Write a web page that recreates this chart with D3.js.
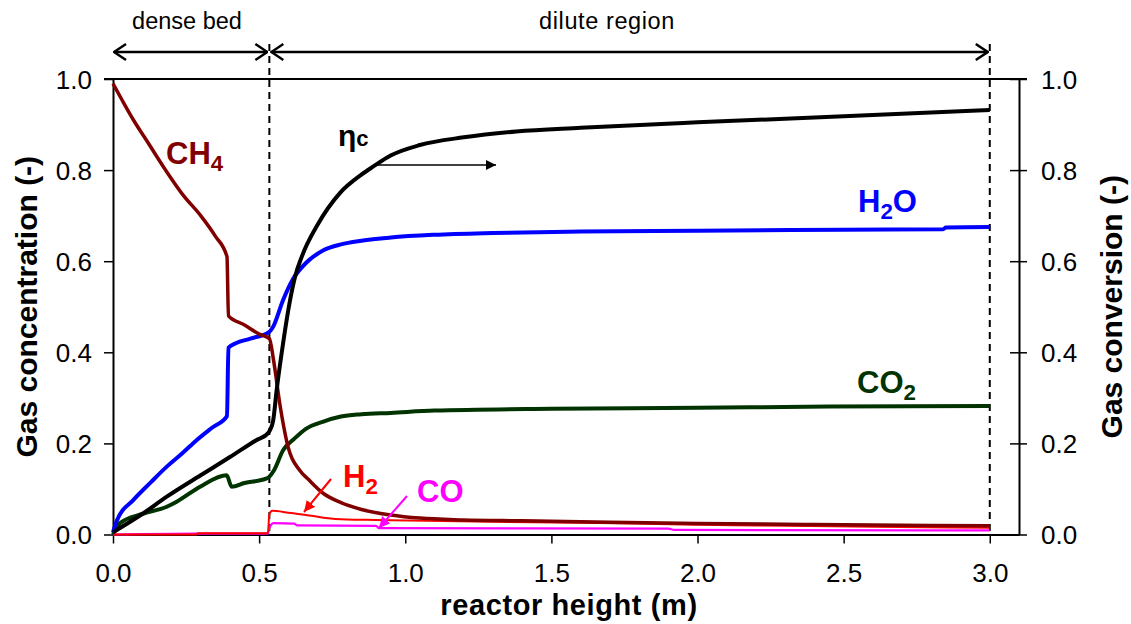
<!DOCTYPE html>
<html>
<head>
<meta charset="utf-8">
<script src="https://cdn.jsdelivr.net/npm/d3@7"></script>
<style>
  html, body { margin: 0; padding: 0; background: #fff; }
  svg { display: block; font-family: "Liberation Sans", Arial, sans-serif; }
</style>
</head>
<body>
<svg id="chart" width="1131" height="624"></svg>
<script>
// Reactor height (m) and gas concentration / conversion profiles
const ch4Height = [0, 0.03, 0.07, 0.12, 0.18, 0.24, 0.3, 0.35, 0.39, 0.395, 0.45, 0.5, 0.535, 0.55, 0.57, 0.6, 0.64, 0.67, 0.72, 0.78, 0.85, 0.95, 1.05, 1.2, 1.4, 1.7, 2.0, 2.4, 2.8, 3.0];
const ch4Value  = [0.99, 0.955, 0.91, 0.86, 0.80, 0.745, 0.70, 0.655, 0.61, 0.48, 0.46, 0.44, 0.43, 0.38, 0.29, 0.19, 0.14, 0.12, 0.09, 0.07, 0.055, 0.043, 0.036, 0.032, 0.03, 0.027, 0.024, 0.022, 0.02, 0.019];

const h2oHeight = [0, 0.013, 0.07, 0.13, 0.184, 0.24, 0.286, 0.34, 0.39, 0.395, 0.42, 0.47, 0.535, 0.548, 0.582, 0.615, 0.66, 0.72, 0.78, 0.85, 0.95, 1.1, 1.3, 1.6, 2.0, 2.5, 2.84, 2.85, 3.0];
const h2oValue  = [0.005, 0.03, 0.076, 0.115, 0.149, 0.18, 0.207, 0.235, 0.26, 0.41, 0.42, 0.43, 0.445, 0.456, 0.515, 0.56, 0.596, 0.624, 0.637, 0.645, 0.652, 0.658, 0.662, 0.665, 0.667, 0.669, 0.67, 0.674, 0.675];

const co2Height = [0, 0.024, 0.1, 0.184, 0.218, 0.298, 0.389, 0.406, 0.45, 0.526, 0.535, 0.55, 0.582, 0.62, 0.66, 0.72, 0.78, 0.85, 0.95, 1.1, 1.5, 2.0, 2.45, 3.0];
const co2Value  = [0, 0.025, 0.045, 0.061, 0.072, 0.105, 0.13, 0.105, 0.113, 0.123, 0.127, 0.14, 0.185, 0.21, 0.232, 0.248, 0.259, 0.264, 0.267, 0.272, 0.276, 0.278, 0.281, 0.282];

const h2Height = [0, 0.286, 0.29, 0.53, 0.535, 0.545, 0.6, 0.66, 0.72, 0.8, 0.9, 1.07, 1.3, 1.6, 1.95, 2.2, 2.6, 3.0];
const h2Value  = [0, 0, 0.003, 0.003, 0.045, 0.052, 0.048, 0.043, 0.037, 0.033, 0.032, 0.03, 0.028, 0.026, 0.022, 0.02, 0.017, 0.015];

const coHeight = [0, 0.286, 0.53, 0.535, 0.55, 0.62, 0.63, 0.9, 0.91, 1.9, 1.92, 3.0];
const coValue  = [0, 0.002, 0.002, 0.015, 0.025, 0.024, 0.02, 0.019, 0.014, 0.013, 0.01, 0.009];

// Carbon conversion (right axis)
const etaHeight = [0, 0.1, 0.184, 0.3, 0.4, 0.49, 0.53, 0.537, 0.548, 0.56, 0.582, 0.606, 0.623, 0.646, 0.7, 0.777, 0.85, 0.891, 0.95, 1.05, 1.2, 1.38, 1.6, 2.0, 2.5, 3.0];
const etaValue  = [0.005, 0.045, 0.083, 0.13, 0.17, 0.207, 0.222, 0.229, 0.25, 0.317, 0.42, 0.515, 0.566, 0.61, 0.68, 0.75, 0.79, 0.808, 0.832, 0.855, 0.872, 0.885, 0.893, 0.905, 0.918, 0.932];

const xTicks = [0, 0.5, 1.0, 1.5, 2.0, 2.5, 3.0];
const yTicks = [0, 0.2, 0.4, 0.6, 0.8, 1.0];
const denseBedTop = 0.535;
const reactorTop = 3.0;

const svg = d3.select("#chart");
const plotLeft = 113, plotRight = 1019, plotTop = 79, plotBottom = 534.5;

const x = d3.scaleLinear().domain([0, 3.1]).range([plotLeft, plotRight]);
const y = d3.scaleLinear().domain([0, 1]).range([plotBottom, plotTop]);
const yR = d3.scaleLinear().domain([0, 1]).range([plotBottom, plotTop]);

const fmt = d3.format(".1f");

// Region boundary lines
[denseBedTop, reactorTop].forEach(h => {
  svg.append("line")
    .attr("x1", x(h)).attr("x2", x(h))
    .attr("y1", 44).attr("y2", plotBottom)
    .attr("stroke", "#000").attr("stroke-width", 2)
    .attr("stroke-dasharray", "7,5");
});

// Axes
const gx = svg.append("g").attr("transform", `translate(0,${plotBottom})`)
  .call(d3.axisBottom(x).tickValues(xTicks).tickFormat(fmt).tickSize(9).tickSizeOuter(0));
const gy = svg.append("g").attr("transform", `translate(${plotLeft},0)`)
  .call(d3.axisLeft(y).tickValues(yTicks).tickFormat(fmt).tickSize(9).tickSizeOuter(0));
const gyr = svg.append("g").attr("transform", `translate(${plotRight},0)`)
  .call(d3.axisRight(yR).tickValues(yTicks).tickFormat(fmt).tickSize(8).tickSizeOuter(0));
gyr.selectAll(".tick line").attr("x1", -9);

[gx, gy, gyr].forEach(g => {
  g.select(".domain").attr("stroke", "#000").attr("stroke-width", 2);
  g.selectAll(".tick line").attr("stroke", "#000").attr("stroke-width", 1.5);
  g.selectAll(".tick text").attr("fill", "#000").style("font-size", "26px")
    .style("font-family", "'Liberation Sans', Arial, sans-serif");
});
gx.selectAll(".tick text").attr("dy", null).attr("y", 47);
gy.selectAll(".tick text").attr("x", -21).attr("dy", "0.36em");
gyr.selectAll(".tick text").attr("x", 22).attr("dy", "0.36em");

// Top frame line
svg.append("line").attr("x1", plotLeft - 9).attr("x2", plotRight + 8)
  .attr("y1", plotTop).attr("y2", plotTop).attr("stroke", "#000").attr("stroke-width", 2);

// Axis titles
svg.append("text").attr("x", 569).attr("y", 615)
  .attr("text-anchor", "middle").style("font-size", "29px").style("font-weight", "bold")
  .style("letter-spacing", "0.6px")
  .text("reactor height (m)");
svg.append("text").attr("transform", `translate(37,${(plotTop + plotBottom) / 2}) rotate(-90)`)
  .attr("text-anchor", "middle").style("font-size", "30px").style("font-weight", "bold")
  .text("Gas concentration (-)");
svg.append("text").attr("transform", `translate(1122,${(plotTop + plotBottom) / 2}) rotate(-90)`)
  .attr("text-anchor", "middle").style("font-size", "30px").style("font-weight", "bold")
  .text("Gas conversion (-)");

// Series lines
const line = (scale) => d3.line().curve(d3.curveMonotoneX).x(d => x(d[0])).y(d => scale(d[1]));
const zip = (a, b) => a.map((v, i) => [v, b[i]]);

const series = [
  { h: co2Height, v: co2Value, color: "#003300", w: 4, s: y },
  { h: h2oHeight, v: h2oValue, color: "#0000ff", w: 4, s: y },
  { h: coHeight, v: coValue, color: "#ff00ff", w: 2.2, s: y },
  { h: h2Height, v: h2Value, color: "#ff0000", w: 2, s: y },
  { h: ch4Height, v: ch4Value, color: "#800000", w: 3.5, s: y },
  { h: etaHeight, v: etaValue, color: "#000000", w: 4, s: yR }
];
series.forEach(sr => {
  svg.append("path").datum(zip(sr.h, sr.v))
    .attr("d", line(sr.s))
    .attr("fill", "none").attr("stroke", sr.color)
    .attr("stroke-width", sr.w).attr("stroke-linejoin", "round");
});

// Arrow markers
const defs = svg.append("defs");
defs.append("marker").attr("id", "tri").attr("viewBox", "0 0 10 10")
  .attr("refX", 10).attr("refY", 5).attr("markerWidth", 10).attr("markerHeight", 10)
  .attr("markerUnits", "userSpaceOnUse").attr("orient", "auto")
  .append("path").attr("d", "M0,0 L10,5 L0,10 Z").attr("fill", "#000");
defs.append("marker").attr("id", "chev").attr("viewBox", "0 0 14 20")
  .attr("refX", 13).attr("refY", 10).attr("markerWidth", 14).attr("markerHeight", 20)
  .attr("markerUnits", "userSpaceOnUse").attr("orient", "auto-start-reverse")
  .append("path").attr("d", "M1,2 L13,10 L1,18").attr("fill", "none")
  .attr("stroke", "#000").attr("stroke-width", 2.5);
["#ff0000", "#ff00ff"].forEach((c, i) => {
  defs.append("marker").attr("id", "head" + i).attr("viewBox", "0 0 10 10")
    .attr("refX", 10).attr("refY", 5).attr("markerWidth", 11).attr("markerHeight", 11)
    .attr("markerUnits", "userSpaceOnUse").attr("orient", "auto")
    .append("path").attr("d", "M0,0 L10,5 L0,10 Z").attr("fill", c);
});

// Region arrows and labels
svg.append("line").attr("x1", x(0) + 1).attr("x2", x(denseBedTop) - 2)
  .attr("y1", 52).attr("y2", 52).attr("stroke", "#000").attr("stroke-width", 2.5)
  .attr("marker-start", "url(#chev)").attr("marker-end", "url(#chev)");
svg.append("line").attr("x1", x(denseBedTop) + 2).attr("x2", x(reactorTop) - 2)
  .attr("y1", 52).attr("y2", 52).attr("stroke", "#000").attr("stroke-width", 2.5)
  .attr("marker-start", "url(#chev)").attr("marker-end", "url(#chev)");
svg.append("text").attr("x", 187).attr("y", 29).attr("text-anchor", "middle")
  .style("font-size", "23.5px").text("dense bed");
svg.append("text").attr("x", 607).attr("y", 29).attr("text-anchor", "middle")
  .style("font-size", "23.5px").style("letter-spacing", "0.6px").text("dilute region");

// Species labels
function species(xp, yp, main, sub, after, color, size) {
  const t = svg.append("text").attr("x", xp).attr("y", yp)
    .attr("fill", color).style("font-size", size + "px").style("font-weight", "bold");
  t.append("tspan").text(main);
  t.append("tspan").attr("dy", size * 0.22).style("font-size", (size * 0.72) + "px").text(sub);
  if (after) t.append("tspan").attr("dy", -size * 0.22).text(after);
}
species(166, 164, "CH", "4", "", "#800000", 31);
species(858, 212, "H", "2", "O", "#0000ff", 31);
species(857, 393, "CO", "2", "", "#003300", 31);
species(343, 487, "H", "2", "", "#ff0000", 31);
svg.append("text").attr("x", 417).attr("y", 502).attr("fill", "#ff00ff")
  .style("font-size", "31px").style("font-weight", "bold").text("CO");

// eta_c label with arrow pointing to the right axis
const eta = svg.append("text").attr("x", 338).attr("y", 146).attr("fill", "#000")
  .style("font-weight", "bold").style("font-size", "30px");
eta.append("tspan").text("η");
eta.append("tspan").style("font-size", "22px").text("c");
svg.append("line").attr("x1", 373).attr("x2", 496).attr("y1", 165).attr("y2", 165)
  .attr("stroke", "#000").attr("stroke-width", 1.5).attr("marker-end", "url(#tri)");

// Pointers from labels to the H2 and CO lines
svg.append("line").attr("x1", 331).attr("y1", 479).attr("x2", 304).attr("y2", 512)
  .attr("stroke", "#ff0000").attr("stroke-width", 2).attr("marker-end", "url(#head0)");
svg.append("line").attr("x1", 407).attr("y1", 496).attr("x2", 379).attr("y2", 528)
  .attr("stroke", "#ff00ff").attr("stroke-width", 2).attr("marker-end", "url(#head1)");
</script>
</body>
</html>
